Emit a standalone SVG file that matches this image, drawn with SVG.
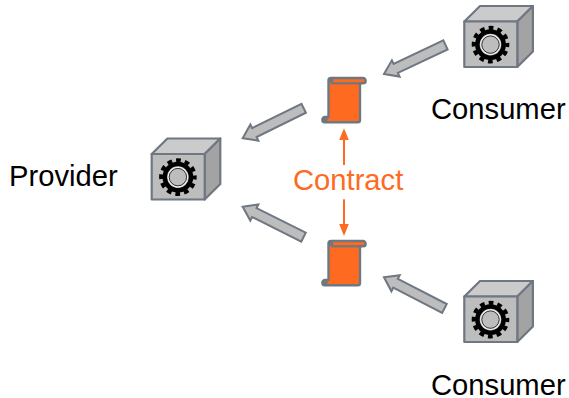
<svg xmlns="http://www.w3.org/2000/svg" width="569" height="398" viewBox="0 0 569 398">
<style>
text{font-family:"Liberation Sans",Arial,sans-serif;font-size:29.2px}
.or{fill:#ff6a21}
.arrow{fill:#bdbdbd;stroke:#6f7782;stroke-width:2;stroke-linejoin:miter}
.cs{stroke:#6f7782;stroke-width:2.2;stroke-linejoin:round}
.scr{fill:#ff6a21;stroke:#6f7782;stroke-width:2.4;stroke-linejoin:round}
.oline{stroke:#ff6a21;stroke-width:2;fill:none}
</style>
<defs>
<symbol id="cube" overflow="visible">
<path class="cs" fill="#cbcbcb" d="M0 15.5L15.7 0H68.6L53 15.5Z"/>
<path class="cs" fill="#a3a3a3" d="M53 15.5L68.6 0V45.5L53 61Z"/>
<rect class="cs" fill="#bdbdbd" x="0" y="15.5" width="53" height="45.5"/>
<circle cx="26.2" cy="38.6" r="15.4" fill="#000"/>
<circle cx="26.2" cy="38.6" r="16.8" fill="none" stroke="#000" stroke-width="4" stroke-dasharray="4.8 4" stroke-dashoffset="2.4"/>
<circle cx="26.2" cy="38.6" r="10.8" fill="#bdbdbd"/>
<circle cx="26.2" cy="38.6" r="9.7" fill="none" stroke="#f4f4f4" stroke-width="1.2"/>
<circle cx="26.2" cy="38.6" r="8.7" fill="#bdbdbd" stroke="#111" stroke-width="0.8"/>
</symbol>
<symbol id="scroll" overflow="visible">
<path class="scr" d="M6.5 3.5a2.5 2.5 0 0 1 2.5-2.5H41a2.6 2.6 0 0 1 0 5.3H38V43a2.3 2.3 0 0 1-2.3 2.3H3a2.6 2.6 0 0 1 0-5.3H6.5Z"/>
<path d="M9 6.3H38" stroke="#6f7782" stroke-width="2.2" fill="none"/>
<circle cx="9" cy="3.7" r="2.4" fill="#6f7782"/>
<circle cx="3.3" cy="42.7" r="2.4" fill="#6f7782"/>
</symbol>
<polygon id="fat" class="arrow" points="0,0 13,-9 13,-5 68,-5 68,5 13,5 13,9"/>
</defs>
<g id="connectors">
<use href="#fat" transform="translate(384,74) rotate(-25.3)"/>
<use href="#fat" transform="translate(242.7,138.3) rotate(-26.2)"/>
<use href="#fat" transform="translate(242.7,206.7) rotate(26.6)"/>
<use href="#fat" transform="translate(384,277.3) rotate(27.3)"/>
<path class="oline" d="M344 165V136"/>
<path class="or" d="M339.2 140L344 128.3L348.8 140Z"/>
<path class="oline" d="M344 199.3V228"/>
<path class="or" d="M339.2 224L344 236L348.8 224Z"/>
</g>
<g id="provider"><use href="#cube" x="151.7" y="138.5"/><text x="9" y="186">Provider</text></g>
<g id="consumer-top"><use href="#cube" x="464.3" y="6"/><text x="431" y="118.5">Consumer</text></g>
<g id="consumer-bottom"><use href="#cube" x="464.3" y="281"/><text x="431" y="394.5">Consumer</text></g>
<g id="contract-top"><use href="#scroll" x="322" y="77"/></g>
<g id="contract-bottom"><use href="#scroll" x="322" y="240"/></g>
<g id="contract-label"><text x="293" y="190" fill="#ff6a21">Contract</text></g>
</svg>
